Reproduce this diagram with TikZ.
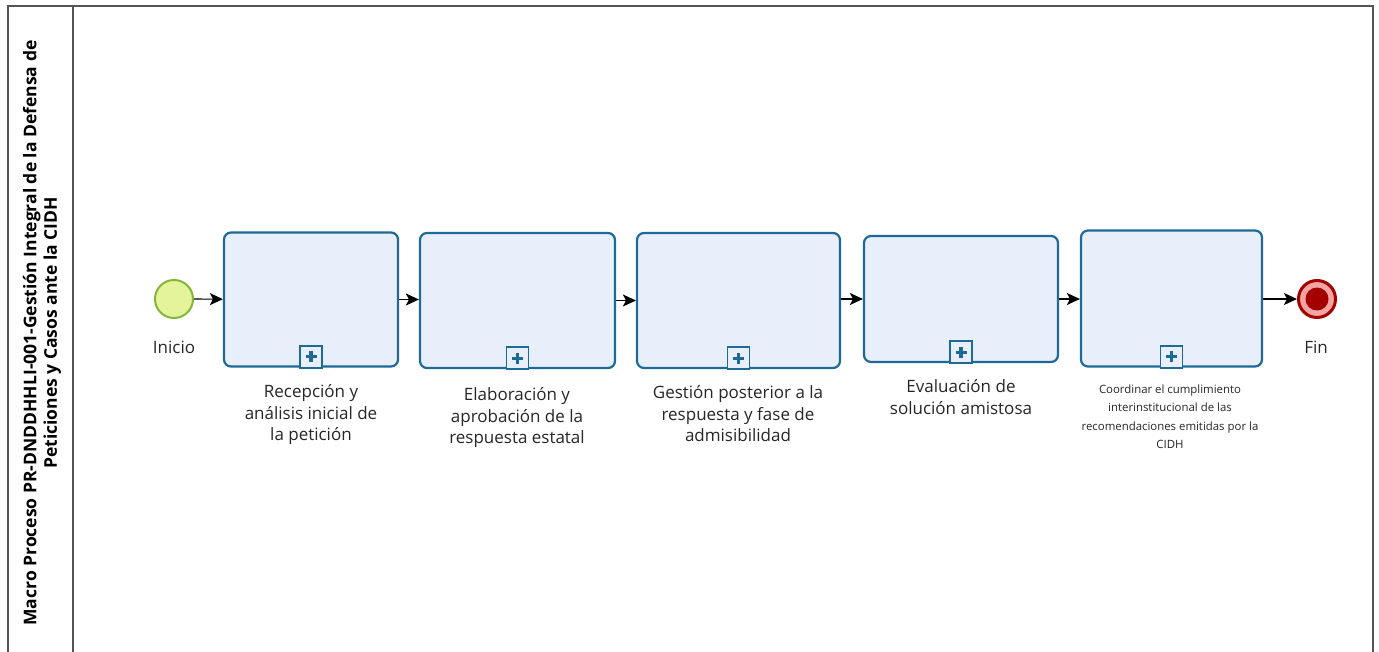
\documentclass[tikz,border=0pt]{standalone}
\usepackage{fontspec}
\setmainfont{Open Sans}
\usetikzlibrary{arrows.meta}
\definecolor{taskfill}{HTML}{E9EEFB}
\definecolor{taskline}{HTML}{1D6A97}
\definecolor{startfill}{HTML}{E4F49A}
\definecolor{startline}{HTML}{82B83A}
\definecolor{endred}{HTML}{A30000}
\definecolor{endpink}{HTML}{F4A3A3}
\definecolor{framegray}{HTML}{555555}
\begin{document}
\begin{tikzpicture}[x=1pt,y=-1pt,
  task/.style={draw=taskline,fill=taskfill,line width=2.2pt,rounded corners=7pt,inner sep=0pt},
  marker/.style={draw=taskline,fill=taskfill,line width=1.8pt,minimum size=22pt,inner sep=0pt},
  lbl/.style={align=center,font=\fontsize{17}{21.5}\selectfont,text=black!85,anchor=north},
  flow/.style={draw=black,line width=1.2pt,-{Stealth[length=13pt,width=12pt,inset=3pt]}}]
\useasboundingbox (0,0) rectangle (1379,652);
\begin{scope}
\clip (0,0) rectangle (1379,652);
\draw[framegray,line width=1.2pt] (8,6) rectangle (1373,670);
\draw[framegray,line width=1.2pt] (73,6) -- (73,670);
\end{scope}
\node[rotate=90,align=center,font=\bfseries\fontsize{17.5}{20.5}\selectfont] (title) at (42,333)
  {Macro Proceso PR-DNDDHHLI-001-Gestión Integral de la Defensa de\\Peticiones y Casos ante la CIDH};
% events
\node[circle,draw=startline,fill=startfill,line width=2pt,minimum size=38pt,inner sep=0pt] (start) at (174,299) {};
\node[circle,draw=endred,fill=endpink,line width=3pt,minimum size=37pt,inner sep=0pt] (end) at (1317,299) {};
\node[circle,fill=endred,minimum size=23pt,inner sep=0pt] (endin) at (end.center) {};
% tasks
\node[task,minimum width=174pt,minimum height=134pt] (t1) at (311,299.5) {};
\node[task,minimum width=195pt,minimum height=135pt] (t2) at (517.5,300.5) {};
\node[task,minimum width=203pt,minimum height=135pt] (t3) at (738.5,300.5) {};
\node[task,minimum width=194pt,minimum height=126pt] (t4) at (961,299) {};
\node[task,minimum width=181pt,minimum height=136pt] (t5) at (1171.5,298.5) {};
% markers
\foreach \t in {t1,t2,t3,t4,t5}{
  \node[marker,anchor=south] (\t m) at ([yshift=-1pt]\t.south) {};
  \fill[taskline] ([xshift=-5.5pt,yshift=-1.6pt]\t m.center) rectangle ([xshift=5.5pt,yshift=1.6pt]\t m.center);
  \fill[taskline] ([xshift=-1.6pt,yshift=-5.5pt]\t m.center) rectangle ([xshift=1.6pt,yshift=5.5pt]\t m.center);
}
% labels
\node[lbl] (l0) at (174,337) {Inicio};
\node[lbl] (l6) at (1316,337) {Fin};
\node[lbl] (l1) at (311,381) {Recepción y\\análisis inicial de\\la petición};
\node[lbl] (l2) at (517,384) {Elaboración y\\aprobación de la\\respuesta estatal};
\node[lbl] (l3) at (738,382) {Gestión posterior a la\\respuesta y fase de\\admisibilidad};
\node[lbl] (l4) at (961,376) {Evaluación de\\solución amistosa};
\node[lbl,font=\fontsize{11.4}{18.5}\selectfont] (l5) at (1170,381) {Coordinar el cumplimiento\\interinstitucional de las\\recomendaciones emitidas por la\\CIDH};
% flows
\draw[flow] (start) -- (t1);
\draw[flow] (t1) -- (t2.west |- t1);
\draw[flow] (t2) -- (t3.west |- t2);
\draw[flow] (t3.east |- t4) -- (t4);
\draw[flow] (t4) -- (t5.west |- t4);
\draw[flow] (t5.east |- end) -- (end);
\end{tikzpicture}
\end{document}
